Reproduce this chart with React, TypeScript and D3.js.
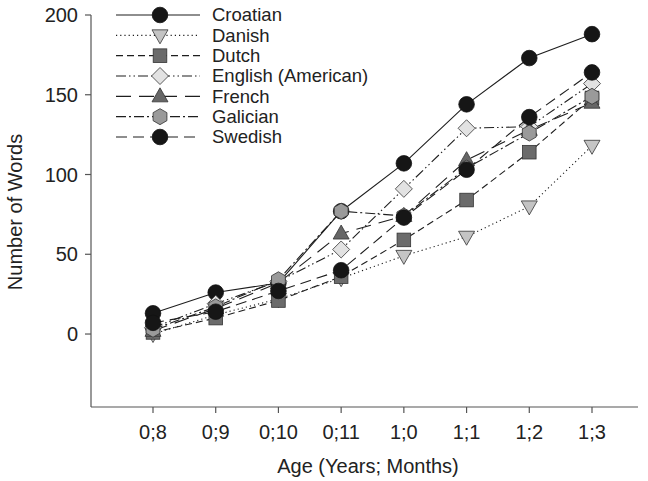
import React from 'react';
import * as d3 from 'd3';

const ages = ['0;8', '0;9', '0;10', '0;11', '1;0', '1;1', '1;2', '1;3'];
const yTicks = [0, 50, 100, 150, 200];

const croatian = [13, 26, 32, 77, 107, 144, 173, 188];
const danish = [0, 12, 22, 35, 49, 61, 80, 118];
const dutch = [1, 10, 21, 36, 59, 84, 114, 148];
const english = [4, 19, 33, 53, 91, 129, 130, 157];
const french = [2, 16, 32, 63, 74, 109, 128, 145];
const galician = [3, 17, 34, 77, 74, 104, 126, 149];
const swedish = [7, 14, 27, 40, 73, 103, 136, 164];

const series = [
    { name: 'Croatian', values: croatian, symbol: 'circle', fill: '#161616', dash: null },
    { name: 'Danish', values: danish, symbol: 'down', fill: '#c4c4c4', dash: '1.2,3' },
    { name: 'Dutch', values: dutch, symbol: 'square', fill: '#6b6b6b', dash: '7,4' },
    { name: 'English (American)', values: english, symbol: 'diamond', fill: '#e2e2e2', dash: '10,3,1.5,3,1.5,3' },
    { name: 'French', values: french, symbol: 'up', fill: '#666666', dash: '15,8' },
    { name: 'Galician', values: galician, symbol: 'hexagon', fill: '#9a9a9a', dash: '10,3,2,3' },
    { name: 'Swedish', values: swedish, symbol: 'circle', fill: '#161616', dash: '11,6' },
];

const font = '"Liberation Sans", Arial, Helvetica, sans-serif';

function marker(symbol, cx, cy, fill, key) {
    const stroke = '#333';
    switch (symbol) {
        case 'circle':
            return <circle key={key} cx={cx} cy={cy} r={7.8} fill={fill} stroke="#111" strokeWidth={0.8} />;
        case 'square':
            return <rect key={key} x={cx - 6.8} y={cy - 6.8} width={13.6} height={13.6} fill={fill} stroke={stroke} strokeWidth={0.8} />;
        case 'diamond':
            return <path key={key} d={`M${cx},${cy - 8.5}L${cx + 8.5},${cy}L${cx},${cy + 8.5}L${cx - 8.5},${cy}Z`} fill={fill} stroke={stroke} strokeWidth={0.8} />;
        case 'up':
            return <path key={key} d={`M${cx},${cy - 8.5}L${cx + 8},${cy + 5.5}L${cx - 8},${cy + 5.5}Z`} fill={fill} stroke={stroke} strokeWidth={0.8} />;
        case 'down':
            return <path key={key} d={`M${cx},${cy + 8.5}L${cx + 8},${cy - 5.5}L${cx - 8},${cy - 5.5}Z`} fill={fill} stroke={stroke} strokeWidth={0.8} />;
        case 'hexagon': {
            const pts = d3.range(6).map((i) => {
                const a = -Math.PI / 2 + (i * Math.PI) / 3;
                return [cx + 8 * Math.cos(a), cy + 8 * Math.sin(a)];
            });
            return <path key={key} d={'M' + pts.map((p) => p.join(',')).join('L') + 'Z'} fill={fill} stroke={stroke} strokeWidth={0.8} />;
        }
        default:
            return null;
    }
}

export default function App() {
    const width = 648;
    const height = 481;
    const axisX = 91;
    const axisY = 407;

    const x = d3.scalePoint(ages, [153, 592]);
    const y = d3.scaleLinear([-46, 200], [407.4, 15]);

    const line = d3.line((d, i) => x(ages[i]), (d) => y(d));

    const legendY = d3.scaleLinear([0, 6], [15, 137]);

    return (
        <svg width={width} height={height} style={{ position: 'absolute', left: 0, top: 0 }} fontFamily={font}>
            <rect width={width} height={height} fill="#fff" />
            {/* axes */}
            <g stroke="#555" strokeWidth={1.2} fill="none">
                <line x1={axisX} x2={axisX} y1={y(200)} y2={axisY} />
                <line x1={axisX} x2={638} y1={axisY} y2={axisY} />
                {yTicks.map((t) => (
                    <line key={t} x1={axisX - 6} x2={axisX} y1={y(t)} y2={y(t)} />
                ))}
                {ages.map((a) => (
                    <line key={a} x1={x(a)} x2={x(a)} y1={axisY} y2={axisY + 6} />
                ))}
            </g>
            <g fontSize={20} fill="#222">
                {yTicks.map((t) => (
                    <text key={t} x={78} y={y(t)} dy="0.35em" textAnchor="end">{t}</text>
                ))}
                {ages.map((a) => (
                    <text key={a} x={x(a)} y={439} textAnchor="middle">{a}</text>
                ))}
                <text x={368} y={473} textAnchor="middle">Age (Years; Months)</text>
                <text transform={`translate(22,212) rotate(-90)`} textAnchor="middle">Number of Words</text>
            </g>
            {/* lines */}
            <g fill="none" stroke="#1e1e1e" strokeWidth={1.1}>
                {series.map((s) => (
                    <path key={s.name} d={line(s.values)} strokeDasharray={s.dash || undefined} />
                ))}
            </g>
            {/* markers */}
            {series.map((s) => (
                <g key={s.name}>
                    {s.values.map((v, i) => marker(s.symbol, x(ages[i]), y(v), s.fill, i))}
                </g>
            ))}
            {/* legend */}
            <g>
                {series.map((s, i) => (
                    <g key={s.name}>
                        <line x1={116} x2={200} y1={legendY(i)} y2={legendY(i)} stroke="#1e1e1e" strokeWidth={1.1} strokeDasharray={s.dash || undefined} />
                        {marker(s.symbol, 160, legendY(i), s.fill, 'm')}
                        <text x={212} y={legendY(i)} dy="0.35em" fontSize={18.5} fill="#222">{s.name}</text>
                    </g>
                ))}
            </g>
        </svg>
    );
}
